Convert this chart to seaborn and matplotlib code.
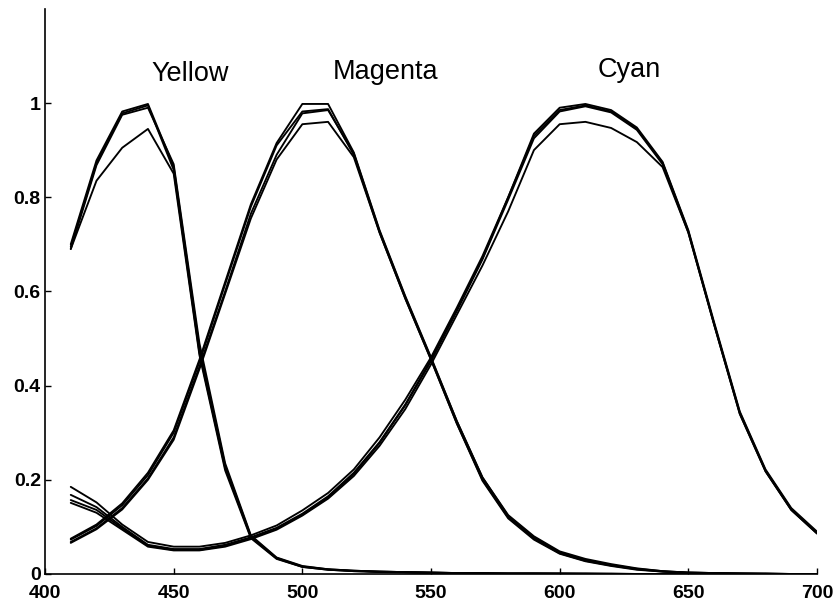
import matplotlib
matplotlib.use("Agg")
import matplotlib.pyplot as plt
import numpy as np
import pandas as pd
import seaborn as sns

# Wavelength grid (nm)
wavelength = [410, 420, 430, 440, 450, 460, 470, 480, 490, 500,
              510, 520, 530, 540, 550, 560, 570, 580, 590, 600,
              610, 620, 630, 640, 650, 660, 670, 680, 690, 700]

# Normalised spectral densities, four measurements per dye
yellow_1 = [0.700, 0.878, 0.982, 0.998, 0.865, 0.480, 0.230, 0.080, 0.034, 0.016,
            0.010, 0.007, 0.005, 0.004, 0.003, 0.002, 0.002, 0.001, 0.001, 0.001,
            0.001, 0.001, 0.000, 0.000, 0.000, 0.000, 0.000, 0.000, 0.000, 0.000]
yellow_2 = [0.695, 0.872, 0.978, 0.995, 0.858, 0.470, 0.225, 0.078, 0.033, 0.015,
            0.009, 0.006, 0.005, 0.004, 0.003, 0.002, 0.001, 0.001, 0.001, 0.001,
            0.000, 0.000, 0.000, 0.000, 0.000, 0.000, 0.000, 0.000, 0.000, 0.000]
yellow_3 = [0.690, 0.868, 0.975, 0.990, 0.870, 0.490, 0.235, 0.082, 0.035, 0.017,
            0.010, 0.007, 0.005, 0.004, 0.003, 0.002, 0.002, 0.001, 0.001, 0.001,
            0.001, 0.000, 0.000, 0.000, 0.000, 0.000, 0.000, 0.000, 0.000, 0.000]
yellow_4 = [0.690, 0.835, 0.905, 0.945, 0.850, 0.465, 0.220, 0.076, 0.032, 0.015,
            0.009, 0.006, 0.004, 0.003, 0.002, 0.002, 0.001, 0.001, 0.001, 0.000,
            0.000, 0.000, 0.000, 0.000, 0.000, 0.000, 0.000, 0.000, 0.000, 0.000]

magenta_1 = [0.075, 0.105, 0.150, 0.215, 0.305, 0.455, 0.620, 0.785, 0.915, 0.998,
             0.998, 0.895, 0.730, 0.590, 0.460, 0.325, 0.205, 0.125, 0.080, 0.048,
             0.032, 0.021, 0.012, 0.006, 0.003, 0.002, 0.001, 0.001, 0.000, 0.000]
magenta_2 = [0.073, 0.102, 0.146, 0.210, 0.300, 0.450, 0.615, 0.780, 0.910, 0.982,
             0.987, 0.890, 0.725, 0.585, 0.455, 0.320, 0.200, 0.120, 0.075, 0.044,
             0.028, 0.018, 0.010, 0.005, 0.003, 0.002, 0.001, 0.000, 0.000, 0.000]
magenta_3 = [0.068, 0.097, 0.140, 0.203, 0.290, 0.440, 0.600, 0.765, 0.890, 0.978,
             0.985, 0.893, 0.728, 0.588, 0.458, 0.325, 0.205, 0.123, 0.078, 0.046,
             0.030, 0.019, 0.011, 0.006, 0.003, 0.002, 0.001, 0.001, 0.000, 0.000]
magenta_4 = [0.066, 0.095, 0.137, 0.200, 0.285, 0.435, 0.595, 0.755, 0.880, 0.955,
             0.960, 0.885, 0.725, 0.585, 0.455, 0.320, 0.198, 0.118, 0.073, 0.043,
             0.027, 0.017, 0.009, 0.005, 0.002, 0.001, 0.001, 0.000, 0.000, 0.000]

cyan_1 = [0.185, 0.152, 0.105, 0.068, 0.058, 0.058, 0.066, 0.082, 0.103, 0.135,
          0.172, 0.222, 0.290, 0.370, 0.460, 0.565, 0.675, 0.800, 0.935, 0.990,
          0.998, 0.985, 0.948, 0.875, 0.730, 0.535, 0.345, 0.222, 0.140, 0.090]
cyan_2 = [0.168, 0.142, 0.100, 0.062, 0.053, 0.053, 0.062, 0.078, 0.098, 0.128,
          0.165, 0.215, 0.280, 0.360, 0.455, 0.560, 0.670, 0.800, 0.930, 0.985,
          0.995, 0.982, 0.945, 0.873, 0.728, 0.532, 0.343, 0.220, 0.138, 0.088]
cyan_3 = [0.157, 0.136, 0.097, 0.060, 0.051, 0.051, 0.060, 0.076, 0.096, 0.126,
          0.162, 0.212, 0.278, 0.358, 0.452, 0.558, 0.668, 0.795, 0.925, 0.982,
          0.993, 0.980, 0.943, 0.870, 0.725, 0.530, 0.340, 0.218, 0.136, 0.086]
cyan_4 = [0.151, 0.130, 0.094, 0.058, 0.050, 0.050, 0.058, 0.074, 0.094, 0.124,
          0.160, 0.208, 0.272, 0.350, 0.445, 0.550, 0.655, 0.770, 0.900, 0.955,
          0.960, 0.947, 0.917, 0.864, 0.725, 0.530, 0.340, 0.218, 0.136, 0.086]

dye_names = ["Yellow", "Magenta", "Cyan"]
label_x = [456.5, 532.5, 627.0]
label_y = [1.047, 1.05, 1.055]

x_ticks = [400, 450, 500, 550, 600, 650, 700]
y_ticks = [0, 0.2, 0.4, 0.6, 0.8, 1.0]
y_tick_labels = ["0", "0.2", "0.4", "0.6", "0.8", "1"]

traces = {
    "Yellow": [yellow_1, yellow_2, yellow_3, yellow_4],
    "Magenta": [magenta_1, magenta_2, magenta_3, magenta_4],
    "Cyan": [cyan_1, cyan_2, cyan_3, cyan_4],
}

rows = []
for dye, series in traces.items():
    for k, vals in enumerate(series):
        for w, v in zip(wavelength, vals):
            rows.append({"wavelength": w, "density": v, "trace": f"{dye}-{k}"})
df = pd.DataFrame(rows)

sns.set_style("ticks")
plt.rcParams["font.family"] = ["Liberation Sans", "DejaVu Sans"]

fig = plt.figure(figsize=(8.4, 6.04), dpi=100)
ax = fig.add_axes([0.0536, 0.0497, 0.9190, 0.9357])

sns.lineplot(data=df, x="wavelength", y="density", units="trace",
             estimator=None, color="black", linewidth=1.35, ax=ax,
             legend=False)

ax.set_xlim(400, 700)
ax.set_ylim(0, 1.2)
ax.set_xticks(x_ticks)
ax.set_xticklabels([str(t) for t in x_ticks])
ax.set_yticks(y_ticks)
ax.set_yticklabels(y_tick_labels)
ax.set_xlabel("")
ax.set_ylabel("")
sns.despine(ax=ax)
for s in ("left", "bottom"):
    ax.spines[s].set_linewidth(1.2)
    ax.spines[s].set_color("black")

ax.tick_params(axis="both", direction="in", length=4, width=1.0,
               labelsize=14, colors="black")
ax.tick_params(axis="x", pad=8)
ax.tick_params(axis="y", pad=3)
for lab in ax.get_xticklabels() + ax.get_yticklabels():
    lab.set_fontweight("bold")

for name, tx, ty in zip(dye_names, label_x, label_y):
    ax.text(tx, ty, name, ha="center", va="baseline", fontsize=19.5,
            color="black")

fig.savefig("out.png", dpi=100)
